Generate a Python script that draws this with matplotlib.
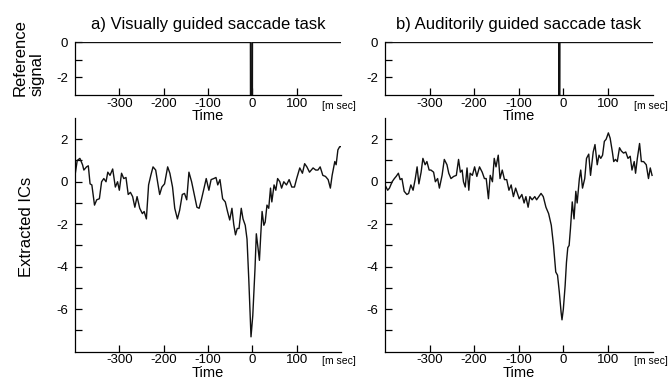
import numpy as np
import matplotlib
matplotlib.use("Agg")
import matplotlib.pyplot as plt
import matplotlib.transforms as mtransforms

plt.rcParams["font.family"] = ["Liberation Sans", "DejaVu Sans"]
plt.rcParams["axes.unicode_minus"] = False

# reference signals (time in ms, value)
ref_a_t = [-400, -4, -3, -1, 0, 200]
ref_a_v = [0, 0, -20, -20, 0, 0]
ref_b_t = [-400, -10, -9, -8, 200]
ref_b_v = [0, 0, -20, 0, 0]

# extracted IC, visually guided task
ic_a_t = [-400, -395, -389, -383, -380, -374, -370, -366, -362, -356, -351, -345, -340, -335,
          -330, -326, -321, -315, -309, -304, -300, -295, -290, -285, -280, -275, -270, -265,
          -260, -254, -248, -244, -239, -234, -229, -224, -218, -213, -209, -204, -198, -191,
          -186, -180, -175, -169, -164, -158, -153, -148, -143, -137, -131, -125, -120, -115,
          -110, -104, -98, -93, -87, -82, -78, -73, -67, -61, -56, -51, -46, -42, -38, -34,
          -30, -25, -21, -16, -12, -8, -3, 1, 6, 9, 13, 16, 19, 22, 26, 29, 33, 37, 41, 44,
          49, 53, 57, 62, 66, 71, 77, 83, 89, 95, 100, 107, 113, 118, 123, 129, 137, 143, 148,
          153, 159, 165, 171, 176, 180, 186, 189, 193, 197, 200]
ic_a_v = [0.3, 1.0, 1.1, 0.8, 0.55, 0.7, 0.75, -0.1, -0.15, -1.1, -0.85, -0.8, 0.0, 0.15,
          0.0, 0.45, 0.3, 0.6, -0.25, 0.0, -0.4, 0.4, 0.15, 0.2, -0.6, -0.5, -0.7, -1.2,
          -0.7, -1.25, -1.5, -1.4, -1.75, -0.15, 0.3, 0.7, 0.55, -0.1, -0.6, -0.25, -0.1, 0.7,
          0.4, -0.25, -1.25, -1.75, -1.35, -0.6, -0.55, -0.85, 0.45, 0.0, -0.6, -1.2, -1.25, -0.85,
          -0.4, 0.15, -0.4, 0.1, 0.15, 0.2, -0.15, 0.1, -0.8, -0.95, -1.4, -1.8, -1.25, -2.0, -2.5, -2.2,
          -2.2, -1.25, -1.75, -2.05, -2.7, -4.6, -7.3, -6.3, -4.1, -2.45, -3.15, -3.7, -2.5, -1.4, -2.05, -1.9, -1.1, -1.25, -0.3, -0.95,
          -0.15, -0.4, 0.15, 0.0, -0.3, 0.0, -0.15, 0.1, -0.25, -0.25, 0.15, 0.65, 0.4, 0.85, 0.7, 0.45, 0.65, 0.55, 0.55,
          0.7, 0.3, 0.25, 0.1, -0.3, 0.3, 0.95, 0.8, 1.5, 1.65, 1.65]

# extracted IC, auditorily guided task
ic_b_t = [-400, -394, -390, -384, -379, -375, -370, -366, -362, -357, -351, -347, -342, -337,
          -332, -328, -324, -319, -315, -310, -306, -301, -297, -291, -287, -282, -278, -272,
          -267, -261, -257, -252, -246, -240, -235, -231, -227, -224, -220, -216, -212, -209,
          -204, -199, -194, -188, -182, -177, -173, -168, -164, -159, -155, -151, -146, -142,
          -137, -132, -127, -122, -117, -112, -107, -103, -99, -93, -88, -84, -79, -75, -70,
          -64, -60, -55, -50, -45, -39, -33, -27, -22, -17, -13, -9, -5, -3, 0, 4, 7, 10, 13,
          16, 20, 24, 28, 31, 36, 39, 43, 48, 52, 57, 61, 67, 71, 76, 80, 84, 88, 92, 96, 101,
          105, 110, 113, 117, 121, 126, 130, 135, 140, 145, 150, 154, 159, 162, 166, 171, 175,
          180, 186, 191, 195, 199]
ic_b_v = [-0.15, -0.4, -0.3, 0.0, 0.15, 0.25, 0.4, 0.1, 0.15, -0.45, -0.6, -0.55, -0.15, -0.4,
          0.15, 0.7, -0.1, 0.45, 1.1, 0.8, 0.95, 0.55, 0.55, 0.45, 0.0, 0.15, -0.3, 0.3,
          1.05, 0.8, 0.4, 0.15, 0.25, 0.3, 1.05, 0.45, 0.55, 0.0, -0.25, 0.65, -0.4, 0.4,
          0.3, 0.7, 0.25, 0.7, 0.45, 0.15, 0.15, -0.8, 0.3, 0.0, 1.1, 0.7, 1.25, 0.15,
          0.55, 0.1, 0.1, -0.4, -0.15, -0.7, -0.3, -0.55, -0.8, -0.6, -1.0, -0.7, -1.2, -0.7, -0.85,
          -0.7, -0.85, -0.7, -0.55, -0.7, -1.2, -1.5, -2.05, -3.0, -4.25, -4.4, -5.2, -6.15, -6.5, -6.0, -4.9, -3.8, -3.1, -3.0,
          -2.2, -0.95, -1.75, -0.45, -1.0, 0.15, 0.55, -0.3, 0.15, 1.1, 1.3, 0.3, 1.4, 1.75, 0.8, 1.25, 1.1, 1.25, 1.9, 2.0, 2.3,
          2.05, 1.4, 0.95, 1.05, 0.95, 1.6, 1.45, 1.35, 1.4, 1.1, 1.2, 0.55, 0.95, 0.4, 1.1, 1.8, 0.95,
          0.95, 0.8, 0.15, 0.65, 0.3]

titles = ["a) Visually guided saccade task", "b) Auditorily guided saccade task"]
xticks = [-300, -200, -100, 0, 100]

W, H = 671, 381
fig = plt.figure(figsize=(W / 100, H / 100), dpi=100)


def px(x0, y0, x1, y1):
    return [x0 / W, 1 - y1 / H, (x1 - x0) / W, (y1 - y0) / H]


def style(ax, fs=9.5):
    ax.patch.set_visible(False)
    for s in ["top", "right"]:
        ax.spines[s].set_visible(False)
    for s in ["left", "bottom"]:
        ax.spines[s].set_linewidth(0.9)
    ax.tick_params(which="both", direction="in", length=5, width=0.9, labelsize=fs)
    ax.tick_params(axis="x", pad=2)
    ax.tick_params(axis="y", pad=5)
    ax.set_xlim(-400, 200)
    ax.set_xticks(xticks)
    # "Time" label just under the tick labels
    off = mtransforms.offset_copy(ax.transAxes, fig=fig, x=0, y=-14, units="dots")
    ax.text(0.5, 0, "Time", transform=off, fontsize=10.5, ha="center", va="top")
    tr = mtransforms.blended_transform_factory(ax.transData, ax.transAxes)
    return tr


lefts = [(75, 341), (385, 652.5)]
refs = [(ref_a_t, ref_a_v), (ref_b_t, ref_b_v)]
ics = [(ic_a_t, ic_a_v), (ic_b_t, ic_b_v)]

for i in range(2):
    x0, x1 = lefts[i]
    # reference signal
    ax = fig.add_axes(px(x0, 42, x1, 95))
    tr = style(ax)
    ax.plot(refs[i][0], refs[i][1], color="#111111", lw=1.2, clip_on=True)
    ax.set_ylim(-3, 0.02)
    ax.set_yticks([-2, 0])
    ax.set_yticks([-1], minor=True)
    ax.text(158, -0.12, "[m sec]", transform=tr, fontsize=7.5, ha="left", va="top")

    # extracted ICs
    ax2 = fig.add_axes(px(x0, 118, x1, 351.7))
    tr2 = style(ax2)
    ax2.plot(ics[i][0], ics[i][1], color="#111111", lw=1.0)
    ax2.set_ylim(-8, 3)
    ax2.set_yticks([-6, -4, -2, 0, 2])
    ax2.set_yticks([-7, -5, -3, -1, 1], minor=True)
    ax2.text(158, -0.02, "[m sec]", transform=tr2, fontsize=7.5, ha="left", va="top")

    fig.text((x0 + x1) / 2 / W, 1 - 24.5 / H, titles[i], fontsize=12, ha="center", va="center")

fig.text(28.5 / W, 1 - 57.5 / H, "Reference\nsignal", fontsize=12, rotation=90,
         ha="center", va="center", multialignment="left", linespacing=1.15)
fig.text(26.7 / W, 1 - 227 / H, "Extracted ICs", fontsize=12, rotation=90, ha="center", va="center")

fig.savefig("out.png", dpi=100)
